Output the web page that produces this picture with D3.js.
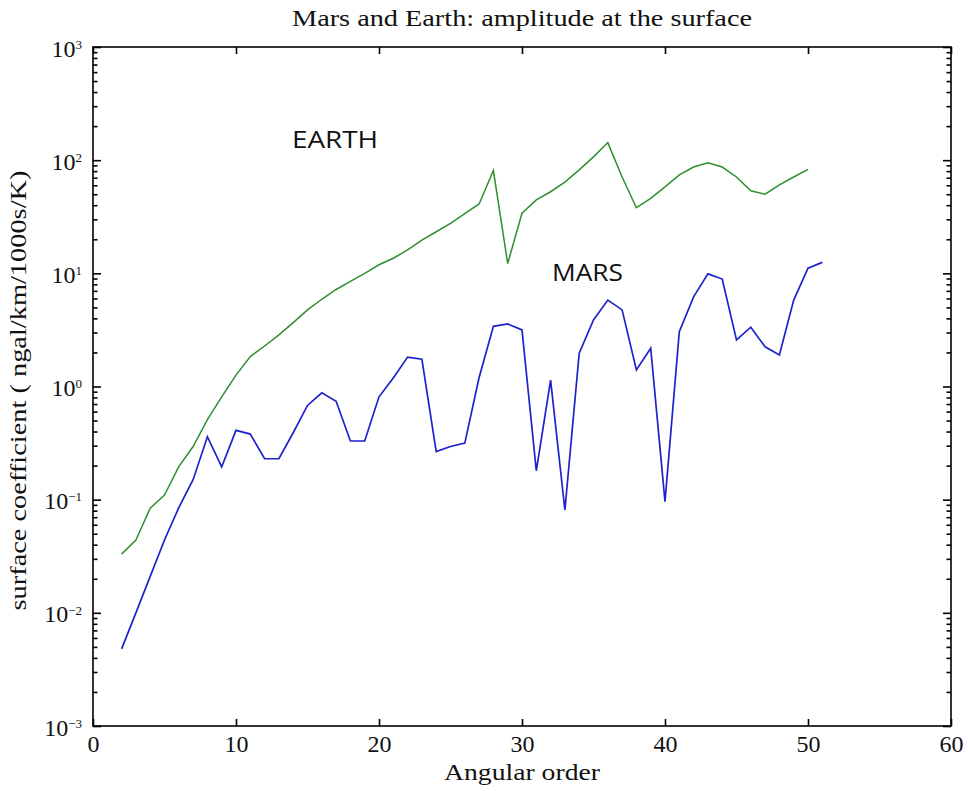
<!DOCTYPE html>
<html>
<head>
<meta charset="utf-8">
<script src="https://cdn.jsdelivr.net/npm/d3@7/dist/d3.min.js"></script>
<style>
  html, body { margin: 0; padding: 0; background: #fff; }
  svg { display: block; }
  .serif { font-family: "Liberation Serif", "DejaVu Serif", serif; fill: #111; }
</style>
</head>
<body>
<svg id="chart" width="968" height="791"></svg>
<script>
// ---- data ----
const earthOrder = [2,3,4,5,6,7,8,9,10,11,12,13,14,15,16,17,18,19,20,21,22,23,24,25,26,27,28,29,30,31,32,33,34,35,36,37,38,39,40,41,42,43,44,45,46,47,48,49,50];
const earthValues = [0.033,0.044,0.084,0.110,0.196,0.295,0.51,0.81,1.26,1.84,2.28,2.86,3.67,4.75,5.9,7.2,8.5,10,11.9,13.6,16.1,19.7,23.3,27.6,33.7,41,81,12.2,34,44.5,52.6,64,82,107,143,71,38,46,58,74,87,95,87,71,53.6,50,60.5,71,83];
const marsOrder = [2,3,4,5,6,7,8,9,10,11,12,13,14,15,16,17,18,19,20,21,22,23,24,25,26,27,28,29,30,31,32,33,34,35,36,37,38,39,40,41,42,43,44,45,46,47,48,49,50,51];
const marsValues = [0.0048,0.010,0.021,0.044,0.085,0.15,0.36,0.195,0.41,0.38,0.23,0.23,0.39,0.68,0.88,0.74,0.33,0.33,0.81,1.19,1.82,1.74,0.266,0.295,0.316,1.2,3.4,3.57,3.16,0.18,1.14,0.081,1.97,3.87,5.8,4.75,1.40,2.18,0.096,3.05,6.2,9.9,8.9,2.58,3.34,2.24,1.90,5.8,11.1,12.5];
const xTicks = [0,10,20,30,40,50,60];
const yTicks = [1e-3,1e-2,1e-1,1e0,1e1,1e2,1e3];
const yExponents = ["\u22123","\u22122","\u22121","0","1","2","3"];
const yMinor = [];
[1e-3,1e-2,1e-1,1e0,1e1,1e2].forEach(b => [2,3,4,5,6,7,8,9].forEach(m => yMinor.push(b*m)));
const title = "Mars and Earth: amplitude at the surface";
const xLabel = "Angular order";
const yLabel = "surface coefficient ( ngal/km/1000s/K)";

// ---- layout ----
const L = 93, R = 951, T = 47, B = 726;
const svg = d3.select("#chart");
const x = d3.scaleLinear().domain([0, 60]).range([L, R]);
const y = d3.scaleLog().domain([1e-3, 1e3]).range([B, T]);

const axisStyle = g => {
  g.select(".domain").remove();
  g.selectAll(".tick line").attr("stroke", "#000").attr("stroke-width", 1.6);
};

// bottom axis with labels
const gx = svg.append("g").attr("transform", `translate(0,${B})`)
  .call(d3.axisBottom(x).tickValues(xTicks).tickSize(-7).tickPadding(11).tickFormat(d3.format("d")));
axisStyle(gx);
gx.selectAll(".tick text").attr("class", "serif").style("font-size", "24px").attr("dy", "0.62em");

// top axis (ticks only)
const gxt = svg.append("g").attr("transform", `translate(0,${T})`)
  .call(d3.axisTop(x).tickValues(xTicks).tickSize(-7).tickFormat(""));
axisStyle(gxt);

// left axis with labels
const gy = svg.append("g").attr("transform", `translate(${L},0)`)
  .call(d3.axisLeft(y).tickValues(yTicks).tickSize(-8).tickPadding(9).tickFormat(() => "10"));
axisStyle(gy);
gy.selectAll(".tick text").attr("class", "serif").style("font-size", "24px").attr("dy", "0.38em")
  .attr("text-anchor", "end")
  .each(function(d, i) {
    const t = d3.select(this);
    t.text("");
    t.append("tspan").text("10");
    t.append("tspan").attr("dy", "-0.6em").style("font-size", "13px").text(yExponents[i]);
  });
gy.selectAll(".tick text").attr("x", -11);

// left minor
const gym = svg.append("g").attr("transform", `translate(${L},0)`)
  .call(d3.axisLeft(y).tickValues(yMinor).tickSize(-4.5).tickFormat(""));
axisStyle(gym);
// right major + minor
const gyr = svg.append("g").attr("transform", `translate(${R},0)`)
  .call(d3.axisRight(y).tickValues(yTicks).tickSize(-8).tickFormat(""));
axisStyle(gyr);
const gyrm = svg.append("g").attr("transform", `translate(${R},0)`)
  .call(d3.axisRight(y).tickValues(yMinor).tickSize(-4.5).tickFormat(""));
axisStyle(gyrm);

// frame
svg.append("rect").attr("x", L).attr("y", T).attr("width", R - L).attr("height", B - T)
  .attr("fill", "none").attr("stroke", "#000").attr("stroke-width", 1.6);

// lines
const line = d3.line().x(d => x(d[0])).y(d => y(d[1]));
svg.append("path").datum(earthOrder.map((o, i) => [o, earthValues[i]]))
  .attr("d", line).attr("fill", "none").attr("stroke", "#2f8f2f").attr("stroke-width", 1.5);
svg.append("path").datum(marsOrder.map((o, i) => [o, marsValues[i]]))
  .attr("d", line).attr("fill", "none").attr("stroke", "#1e22cc").attr("stroke-width", 1.7);

// labels
svg.append("text").attr("class", "serif").attr("x", (L + R) / 2).attr("y", 26)
  .attr("text-anchor", "middle").style("font-size", "23px")
  .attr("textLength", 460).attr("lengthAdjust", "spacingAndGlyphs").text(title);
svg.append("text").attr("class", "serif").attr("x", (L + R) / 2).attr("y", 780)
  .attr("text-anchor", "middle").style("font-size", "23px")
  .attr("textLength", 156).attr("lengthAdjust", "spacingAndGlyphs").text(xLabel);
svg.append("text").attr("class", "serif")
  .attr("transform", `translate(26,${(T + B) / 2 + 4}) rotate(-90)`)
  .attr("text-anchor", "middle").style("font-size", "23px")
  .attr("textLength", 440).attr("lengthAdjust", "spacingAndGlyphs").text(yLabel);

svg.append("text").attr("x", 292).attr("y", 148)
  .style("font-family", "'Open Sans', 'Noto Sans', sans-serif").style("font-size", "24px").style("fill", "#111")
  .attr("textLength", 86).attr("lengthAdjust", "spacingAndGlyphs")
  .text("EARTH");
svg.append("text").attr("x", 552).attr("y", 281)
  .style("font-family", "'Open Sans', 'Noto Sans', sans-serif").style("font-size", "24px").style("fill", "#111")
  .attr("textLength", 71).attr("lengthAdjust", "spacingAndGlyphs")
  .text("MARS");
</script>
</body>
</html>
